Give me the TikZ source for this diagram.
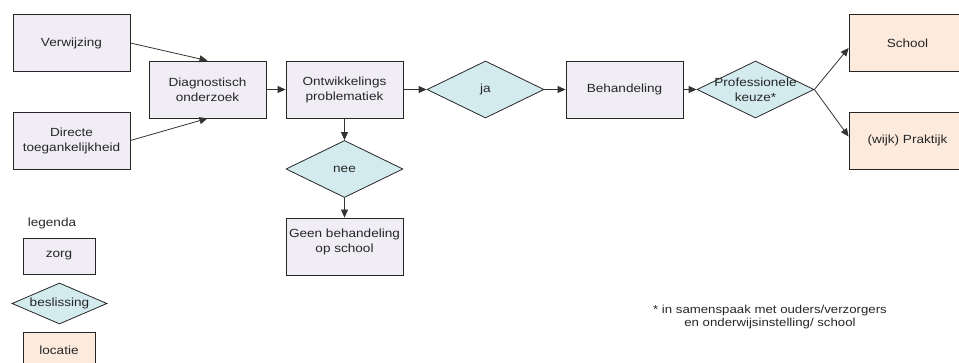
\documentclass[tikz,border=0pt]{standalone}
\usepackage{fontspec}
\setmainfont[FakeStretch=1.15]{Liberation Sans}
\usetikzlibrary{positioning}
\usetikzlibrary{arrows.meta}
\usetikzlibrary{shapes.geometric}
\definecolor{zorgkleur}{HTML}{F0EEF4}
\definecolor{beslkleur}{HTML}{D3EBEF}
\definecolor{lockleur}{HTML}{FCEBDD}

\begin{document}
\begin{tikzpicture}[x=1pt,y=-1pt,
  font=\fontsize{11.8}{15}\selectfont,text=black!85,
  zorg/.style={draw=black!85,line width=0.8pt,fill=zorgkleur,
    minimum width=117pt,minimum height=57pt,inner sep=0pt,align=center},
  locatie/.style={zorg,fill=lockleur},
  beslis/.style={diamond,aspect=2.3,draw=black!85,line width=0.8pt,fill=beslkleur,
    minimum width=117pt,minimum height=57pt,inner sep=0pt},
  pijl/.style={-{Triangle[length=8pt,width=7pt]},line width=0.8pt,draw=black!80}]
\useasboundingbox (0,0) rectangle (959,363);
\node[zorg] (verw) at (71.5,43) {Verwijzing};
\node[zorg] (direct) at (71.5,140.5) {Directe\\toegankelijkheid};
\node[zorg] (diag) at (207.5,89.5) {Diagnostisch\\onderzoek};
\node[zorg] (ontw) at (344.5,89.5) {Ontwikkelings\\problematiek};
\node[beslis] (ja) at (485.5,89.5) {ja};
\node[zorg] (behandel) at (624.5,89.5) {Behandeling};
\node[beslis,label={[align=center]center:Professionele\\keuze*}] (keuze) at (755.5,89.5) {};
\node[locatie] (school) at (907.5,43) {School};
\node[locatie] (praktijk) at (907.5,140.5) {(wijk) Praktijk};
\node[beslis] (nee) at (344.5,169) {nee};
\node[zorg,text depth=12pt] (geen) at (344.5,246.5) {Geen behandeling\\op school};
%%%%%%%%%%%%%%%%%%%%%%%%%%%%%%%%%
\draw[pijl] (verw.east) -- (diag.north);
\draw[pijl] (direct.east) -- (diag.south);
\draw[pijl] (diag) -- (ontw);
\draw[pijl] (ontw) -- (ja);
\draw[pijl] (ja) -- (behandel);
\draw[pijl] (behandel) -- (keuze);
\draw[pijl] (keuze.east) -- ([yshift=-5pt]school.west);
\draw[pijl] (keuze.east) -- ([yshift=4pt]praktijk.west);
\draw[pijl] (ontw) -- (nee);
\draw[pijl] (nee) -- (geen);
%%%%%%%%%%%%%%%%%%%%%%%%%%%%%%%%%
\node (legenda) at (52,223) {legenda};
\node[zorg,minimum width=72pt,minimum height=36pt] (legzorg) at (59,256) {zorg};
\node[beslis,minimum width=95pt,minimum height=41pt] (legbeslis) at (59.5,303.5) {beslissing};
\node[locatie,minimum width=72pt,minimum height=36pt] (leglocatie) at (59,350) {locatie};
\node[align=center,font=\fontsize{11.5}{12.5}\selectfont] (voetnoot) at (770,317)
  {* in samenspaak met ouders/verzorgers\\en onderwijsinstelling/ school};
\end{tikzpicture}
\end{document}
